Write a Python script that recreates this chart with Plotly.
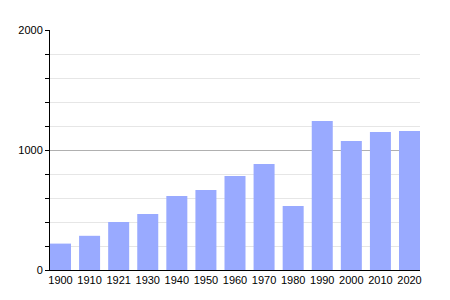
import plotly.graph_objects as go

years = ["1900", "1910", "1921", "1930", "1940", "1950", "1960", "1970", "1980", "1990", "2000", "2010", "2020"]
population = [220, 285, 400, 467, 617, 667, 783, 883, 533, 1242, 1075, 1150, 1158]

w = 0.722
xs = list(range(len(years)))

fig = go.Figure(go.Bar(x=xs, y=population, width=w, marker=dict(color="#99aaff", line=dict(width=0))))
fig.update_layout(
    width=450, height=300,
    margin=dict(l=50, r=30, t=30, b=30),
    paper_bgcolor="white", plot_bgcolor="white",
    font=dict(family="Liberation Sans, Arial", size=11, color="#000"),
    showlegend=False,
)
fig.update_xaxes(
    range=[-w / 2, len(years) - 1 + w / 2],
    tickvals=xs, ticktext=years, ticks="", showgrid=False,
    showline=True, linecolor="black", linewidth=1, zeroline=False,
    tickfont=dict(size=11),
)
fig.update_yaxes(
    range=[0, 2000], dtick=1000, tick0=0,
    ticks="outside", ticklen=4, tickcolor="black",
    showgrid=True, gridcolor="#b0b0b0", gridwidth=1,
    showline=True, linecolor="black", linewidth=1, zeroline=False,
    minor=dict(dtick=200, ticks="outside", ticklen=4, tickcolor="black", showgrid=True, gridcolor="#e6e6e6"),
    tickfont=dict(size=11),
)
fig.write_html("out.html")
